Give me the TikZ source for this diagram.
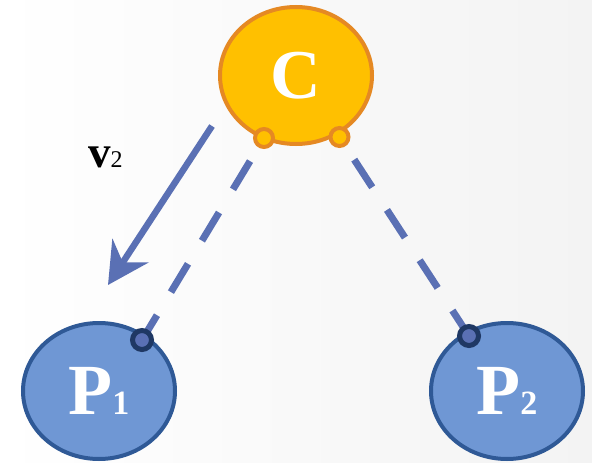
\documentclass[tikz,border=0pt]{standalone}
\usepackage{fontspec}
\setmainfont{Liberation Serif}
\usetikzlibrary{shapes.geometric,arrows.meta}
\definecolor{cfill}{HTML}{FFC000}
\definecolor{cline}{HTML}{E58923}
\definecolor{pfill}{HTML}{6F97D4}
\definecolor{pline}{HTML}{2F5996}
\definecolor{pdotline}{HTML}{1F3864}
\definecolor{linecol}{HTML}{5A70B4}
\definecolor{bgright}{HTML}{F3F3F3}
\pgfdeclarelayer{back}
\pgfdeclarelayer{mid}
\pgfsetlayers{back,mid,main}
\tikzset{
  cnode/.style={ellipse, draw=cline, fill=cfill, line width=4pt,
    minimum width=152pt, minimum height=137pt, inner sep=0pt,
    text=white, font=\fontsize{70}{70}\selectfont\bfseries},
  pnode/.style={ellipse, draw=pline, fill=pfill, line width=4pt,
    minimum width=152pt, minimum height=136pt, inner sep=0pt,
    text=white, font=\fontsize{72}{72}\selectfont\bfseries},
  cdot/.style={circle, draw=cline, fill=cfill, line width=4pt,
    minimum size=18pt, inner sep=0pt},
  pdot/.style={circle, draw=pdotline, fill=linecol, line width=5pt,
    minimum size=19pt, inner sep=0pt},
  dashline/.style={draw=linecol, line width=7pt,
    dash pattern=on 33pt off 27pt, dash phase=33pt},
  vecarrow/.style={draw=linecol, line width=6.5pt,
    -{Stealth[length=41pt,width=43pt,inset=14pt,fill=linecol]}},
  vlabel/.style={anchor=base west, inner sep=0pt, text=black}
}
\begin{document}
\begin{tikzpicture}[x=1pt,y=-1pt]
\useasboundingbox (0,0) rectangle (592,463);
\begin{pgfonlayer}{back}
\shade[left color=white, right color=bgright] (0,0) rectangle (592,463);
\end{pgfonlayer}

\node[cnode] (C) at (296,75.5) {C};
\node[pnode] (P1) at (99,391) {P{\fontsize{34}{34}\selectfont 1}};
\node[pnode] (P2) at (507,391) {P{\fontsize{34}{34}\selectfont 2}};

\node[cdot] (c1) at (264,138) {};
\node[cdot] (c2) at (339.5,137) {};
\node[pdot] (p1d) at (142,340) {};
\node[pdot] (p2d) at (469,336) {};

\begin{pgfonlayer}{mid}
\draw[dashline] (c1.center) -- (p1d.center);
\draw[dashline] (c2.center) -- (p2d.center);
\end{pgfonlayer}

\coordinate (vs) at (212,126);
\coordinate (ve) at (108,285);
\draw[vecarrow] (vs) -- (ve);

\node[vlabel] (v2) at (88,167) {\fontsize{45}{45}\selectfont\bfseries v\mdseries\fontsize{24}{24}\selectfont 2};
\end{tikzpicture}
\end{document}
